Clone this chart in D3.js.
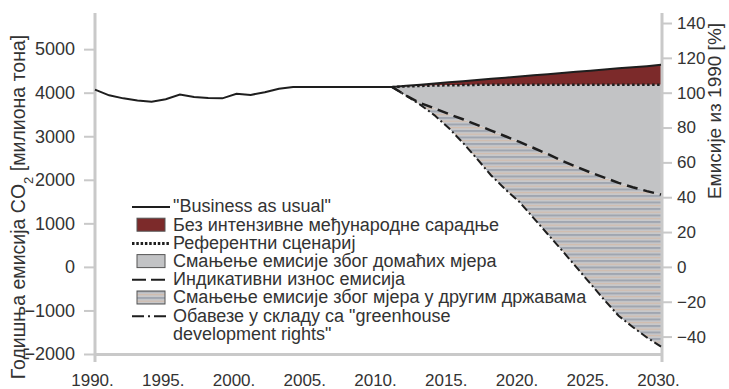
<!DOCTYPE html>
<html>
<head>
<meta charset="utf-8">
<script src="https://cdn.jsdelivr.net/npm/d3@7"></script>
<style>
  body { margin: 0; background: #fff; }
  svg { display: block; }
</style>
</head>
<body>
<svg id="chart" width="729" height="389"></svg>
<script>
// historical emissions (million t CO2)
var histYears = [1990, 1991, 1992, 1993, 1994, 1995, 1996, 1997, 1998, 1999, 2000,
                 2001, 2002, 2003, 2004, 2005, 2006, 2007, 2008, 2009, 2010, 2011];
var histEmissions = [4070, 3940, 3870, 3820, 3795, 3850, 3960, 3900, 3880, 3870, 3975,
                     3950, 4010, 4090, 4130, 4130, 4130, 4130, 4130, 4130, 4130, 4130];

// scenarios 2011-2030
var projYears = [2011, 2012, 2013, 2014, 2015, 2016, 2017, 2018, 2019, 2020,
                 2021, 2022, 2023, 2024, 2025, 2026, 2027, 2028, 2029, 2030];
var businessAsUsual = [4130, 4160, 4185, 4210, 4240, 4265, 4290, 4320, 4345, 4370,
                       4400, 4425, 4450, 4480, 4505, 4530, 4560, 4585, 4610, 4640];
var referenceScenario = [4130, 4145, 4155, 4165, 4170, 4175, 4180, 4180, 4180, 4180,
                         4180, 4180, 4180, 4180, 4180, 4180, 4180, 4180, 4180, 4180];
var indicativeEmissions = [4130, 3930, 3760, 3640, 3510, 3390, 3260, 3130, 3000, 2870,
                           2730, 2590, 2440, 2300, 2170, 2050, 1930, 1830, 1740, 1660];
var gdrCommitments = [4130, 3930, 3720, 3480, 3190, 2850, 2480, 2100, 1780, 1490,
                      1120, 750, 380, 0, -380, -760, -1120, -1380, -1620, -1830];

var xTicks = [1990, 1995, 2000, 2005, 2010, 2015, 2020, 2025, 2030];
var yTicks = [-2000, -1000, 0, 1000, 2000, 3000, 4000, 5000];
var pctTicks = [-40, -20, 0, 20, 40, 60, 80, 100, 120, 140];

var legendLabels = [
  "\"Business as usual\"",
  "Без интензивне међународне сарадње",
  "Референтни сценариј",
  "Смањење емисије због домаћих мјера",
  "Индикативни износ емисија",
  "Смањење емисије због мјера у другим државама",
  "Обавезе у складу са \"greenhouse",
  "development rights\""
];
var legendKinds = ["solid", "red", "dotted", "gray", "dashed", "hatch", "dashdot", "none"];

var font = "'Liberation Sans', Arial, Helvetica, sans-serif";
var textCol = "#333";
var axisCol = "#c9c9c9";
var redCol = "#7c2a2a";
var grayCol = "#c2c3c5";

var svg = d3.select("#chart");

var x = d3.scaleLinear().domain([1990, 2030]).range([95, 661]);
var y = d3.scaleLinear().domain([-2000, 5830]).range([354, 13]);
var yPct = d3.scaleLinear().domain([-50, 145.75]).range([354, 13]);

// striped fill
var defs = svg.append("defs");
var pat = defs.append("pattern").attr("id", "stripes")
    .attr("patternUnits", "userSpaceOnUse")
    .attr("width", 10).attr("height", 6.5);
pat.append("rect").attr("width", 10).attr("height", 6.5).attr("fill", "#c7c8cb");
pat.append("rect").attr("y", 0).attr("width", 10).attr("height", 2).attr("fill", "#a0a6b0");
pat.append("rect").attr("y", 3.6).attr("width", 10).attr("height", 1.2).attr("fill", "#d2bbab");

function band(lo, hi) {
  return d3.area()
    .x(function(d) { return x(d); })
    .y0(function(d, i) { return y(lo[i]); })
    .y1(function(d, i) { return y(hi[i]); });
}
function projLine(vals) {
  return d3.line()
    .x(function(d) { return x(d); })
    .y(function(d, i) { return y(vals[i]); });
}

svg.append("path").datum(projYears).attr("d", band(referenceScenario, businessAsUsual)).attr("fill", redCol);
svg.append("path").datum(projYears).attr("d", band(indicativeEmissions, referenceScenario)).attr("fill", grayCol);
svg.append("path").datum(projYears).attr("d", band(gdrCommitments, indicativeEmissions)).attr("fill", "url(#stripes)");

// axes
var gLeft = svg.append("g").attr("transform", "translate(95,0)")
  .call(d3.axisLeft(y).tickValues(yTicks).tickFormat(d3.format("d")).tickSize(11).tickSizeOuter(0).tickPadding(9));
var gRight = svg.append("g").attr("transform", "translate(662,0)")
  .call(d3.axisRight(yPct).tickValues(pctTicks).tickFormat(d3.format("d")).tickSize(10).tickSizeOuter(0).tickPadding(5));
var gBottom = svg.append("g").attr("transform", "translate(0,354)")
  .call(d3.axisBottom(x).tickValues(xTicks).tickFormat(function(d) { return d + "."; }).tickSize(0).tickPadding(20));

[gLeft, gRight].forEach(function(g) {
  g.select(".domain").attr("d", "M0,13V362").attr("stroke", axisCol).attr("stroke-width", 3);
  g.selectAll(".tick line").attr("stroke", axisCol).attr("stroke-width", 2);
});
gBottom.select(".domain").attr("stroke", axisCol).attr("stroke-width", 3);
gBottom.selectAll(".tick text").attr("x", -3);
svg.selectAll(".tick text").attr("fill", textCol).style("font-family", font).style("font-size", "17px");
gLeft.selectAll(".tick text").style("font-size", "18px");

// lines
svg.append("path").datum(histYears)
  .attr("d", d3.line().x(function(d) { return x(d); }).y(function(d, i) { return y(histEmissions[i]); }))
  .attr("fill", "none").attr("stroke", "#1e1e1e").attr("stroke-width", 2);
svg.append("path").datum(projYears).attr("d", projLine(businessAsUsual))
  .attr("fill", "none").attr("stroke", "#1e1e1e").attr("stroke-width", 2);
svg.append("path").datum(projYears).attr("d", projLine(referenceScenario))
  .attr("fill", "none").attr("stroke", "#1e1e1e").attr("stroke-width", 2.5).attr("stroke-dasharray", "2.5,2.5");
svg.append("path").datum(projYears).attr("d", projLine(indicativeEmissions))
  .attr("fill", "none").attr("stroke", "#1e1e1e").attr("stroke-width", 2.5).attr("stroke-dasharray", "11,6");
svg.append("path").datum(projYears).attr("d", projLine(gdrCommitments))
  .attr("fill", "none").attr("stroke", "#1e1e1e").attr("stroke-width", 2).attr("stroke-dasharray", "8,3,2,3");

// axis titles
svg.append("text").attr("transform", "translate(25,207) rotate(-90)")
  .attr("text-anchor", "middle").attr("fill", textCol)
  .style("font-family", font).style("font-size", "19.5px")
  .call(function(t) {
    t.append("tspan").text("Годишња емисија CO");
    t.append("tspan").attr("baseline-shift", "sub").style("font-size", "13px").text("2");
    t.append("tspan").text(" [милиона тона]");
  });
svg.append("text").attr("transform", "translate(721,111) rotate(-90)")
  .attr("text-anchor", "middle").attr("fill", textCol)
  .style("font-family", font).style("font-size", "19px")
  .text("Емисије из 1990 [%]");

// legend
var legY0 = 206, legStep = 18.2, symL = 132, symR = 170, textX = 173;
var leg = svg.append("g").selectAll("g").data(legendLabels).enter().append("g")
  .attr("transform", function(d, i) { return "translate(0," + (legY0 + i * legStep) + ")"; });
leg.each(function(d, i) {
  var g = d3.select(this), k = legendKinds[i];
  if (k === "solid" || k === "dotted" || k === "dashed" || k === "dashdot") {
    var ln = g.append("line").attr("x1", symL).attr("x2", symR).attr("y1", 1).attr("y2", 1)
      .attr("stroke", "#1e1e1e").attr("stroke-width", k === "dotted" ? 3 : 2);
    if (k === "dotted") ln.attr("stroke-dasharray", "2.5,1.8");
    if (k === "dashed") ln.attr("stroke-dasharray", "14,5");
    if (k === "dashdot") ln.attr("stroke-dasharray", "12,4,2,4");
  } else if (k !== "none") {
    g.append("rect").attr("x", 137).attr("y", -6).attr("width", 28).attr("height", 13)
      .attr("fill", k === "red" ? redCol : k === "gray" ? grayCol : "url(#stripes)")
      .attr("stroke", "#555").attr("stroke-width", 1);
  }
  g.append("text").attr("x", textX).attr("y", 0).attr("dy", "0.35em")
    .attr("fill", textCol).style("font-family", font).style("font-size", "18px")
    .text(d);
});
</script>
</body>
</html>
